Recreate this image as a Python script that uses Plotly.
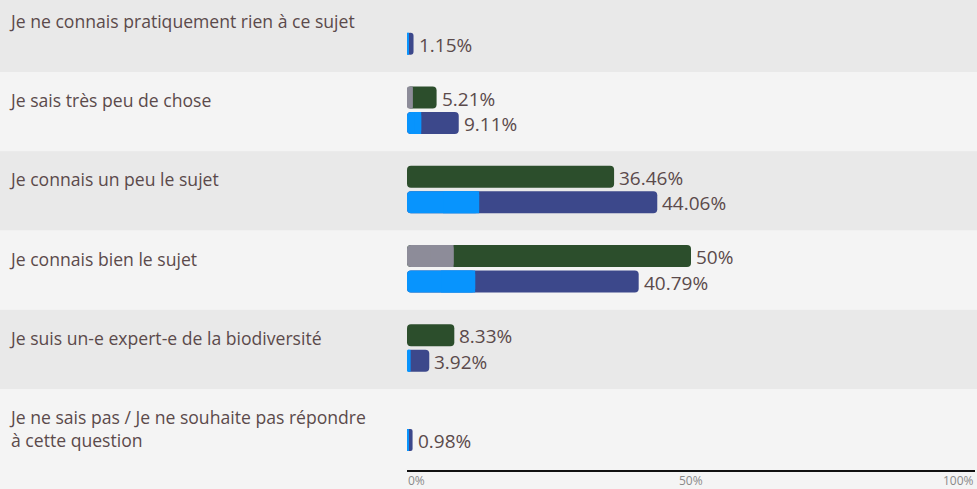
import plotly.graph_objects as go

categories = [
    "Je ne connais pratiquement rien à ce sujet",
    "Je sais très peu de chose",
    "Je connais un peu le sujet",
    "Je connais bien le sujet",
    "Je suis un-e expert-e de la biodiversité",
    "Je ne sais pas / Je ne souhaite pas répondre<br>à cette question",
]
green_total = [None, 5.21, 36.46, 50, 8.33, None]
green_part = [None, 1.0, 0, 8.2, 0, None]
blue_total = [1.15, 9.11, 44.06, 40.79, 3.92, 0.98]
blue_part = [0.3, 2.5, 12.7, 12.0, 0.6, 0.2]
tick_vals = [0, 50, 100]
tick_text = ["0%", "50%", "100%"]

C_GREEN = "#2c4e2c"
C_GRAY = "#8d8c99"
C_BLUE = "#3c488b"
C_LBLUE = "#0894fd"
TXT = "#5b4a4b"
BG_DARK = "#e9e9e9"
BG_LIGHT = "#f4f4f4"
FONT = "Open Sans"

W, H = 977, 489
L, R, T, B = 407, 2, 0, 19
plot_w = W - L - R

ROW_PX = 79.25
OFF = -7.25
y_top = (0 - OFF) / ROW_PX
y_bot = (H - B - OFF) / ROW_PX
BW = 22 / ROW_PX
G_OFF = 25.5 / ROW_PX
B_OFF = 51 / ROW_PX

fig = go.Figure()
annotations = []


def add_series(totals, parts, offset, c_main, c_part):
    ys, tot, prt, ys_p = [], [], [], []
    for i, (t, p) in enumerate(zip(totals, parts)):
        if t is None:
            continue
        ys.append(i + offset)
        tot.append(t)
        if p:
            ys_p.append(i + offset)
            prt.append(p)
    # full bar, rounded on both ends
    fig.add_trace(go.Bar(orientation="h", y=ys, x=tot, base=[0] * len(tot),
                         width=BW, marker=dict(color=c_main, line=dict(width=0)),
                         hoverinfo="skip", showlegend=False))
    if prt:
        # sub-part at left, rounded on the left end
        fig.add_trace(go.Bar(orientation="h", y=ys_p, x=prt, base=[0] * len(prt),
                             width=BW, marker=dict(color=c_part, line=dict(width=0)),
                             hoverinfo="skip", showlegend=False))
        # square off the right end of the sub-part
        fig.add_trace(go.Bar(orientation="h", y=ys_p, x=[p / 2 for p in prt],
                             base=[p / 2 for p in prt], width=BW,
                             marker=dict(color=c_part, line=dict(width=0), cornerradius=0),
                             hoverinfo="skip", showlegend=False))
    for y, t in zip(ys, tot):
        annotations.append(dict(xref="x", yref="y", x=t, y=y, xanchor="left", yanchor="middle",
                                xshift=3, yshift=-1, showarrow=False, text=f"{t:g}%",
                                font=dict(size=19, color=TXT, family=FONT)))


add_series(green_total, green_part, G_OFF, C_GREEN, C_GRAY)
add_series(blue_total, blue_part, B_OFF, C_BLUE, C_LBLUE)

shapes = []
for i in range(len(categories)):
    shapes.append(dict(type="rect", xref="paper", yref="y", x0=-1, x1=1.05,
                       y0=i, y1=i + 1, layer="below", line=dict(width=0),
                       fillcolor=BG_DARK if i % 2 == 0 else BG_LIGHT))

for i, c in enumerate(categories):
    annotations.append(dict(xref="paper", yref="y", x=(7 - L) / plot_w, y=i + 14 / ROW_PX,
                            xanchor="left", yanchor="top", align="left", showarrow=False,
                            text=c, font=dict(size=17.6, color=TXT, family=FONT)))
anchors = ["left", "center", "right"]
for v, t, a in zip(tick_vals, tick_text, anchors):
    annotations.append(dict(xref="x", yref="paper", x=v, y=0, yshift=-1, borderpad=0,
                            xanchor=a, yanchor="top", showarrow=False, text=t,
                            font=dict(size=12, color="#8a8a8a", family=FONT)))

fig.update_layout(
    width=W, height=H,
    margin=dict(l=L, r=R, t=T, b=B, pad=0),
    paper_bgcolor=BG_LIGHT, plot_bgcolor="rgba(0,0,0,0)",
    barmode="overlay", barcornerradius=4,
    shapes=shapes, annotations=annotations,
    xaxis=dict(range=[0, 100], showgrid=False, zeroline=False, showticklabels=False,
               showline=True, linecolor="#111111", linewidth=2, ticks="", fixedrange=True),
    yaxis=dict(range=[y_bot, y_top], showgrid=False, zeroline=False, showticklabels=False,
               showline=False, ticks="", fixedrange=True),
    font=dict(family=FONT, color=TXT),
)

fig.write_html("out.html", config={"displayModeBar": False},
               post_script="document.body.style.margin='0';")
